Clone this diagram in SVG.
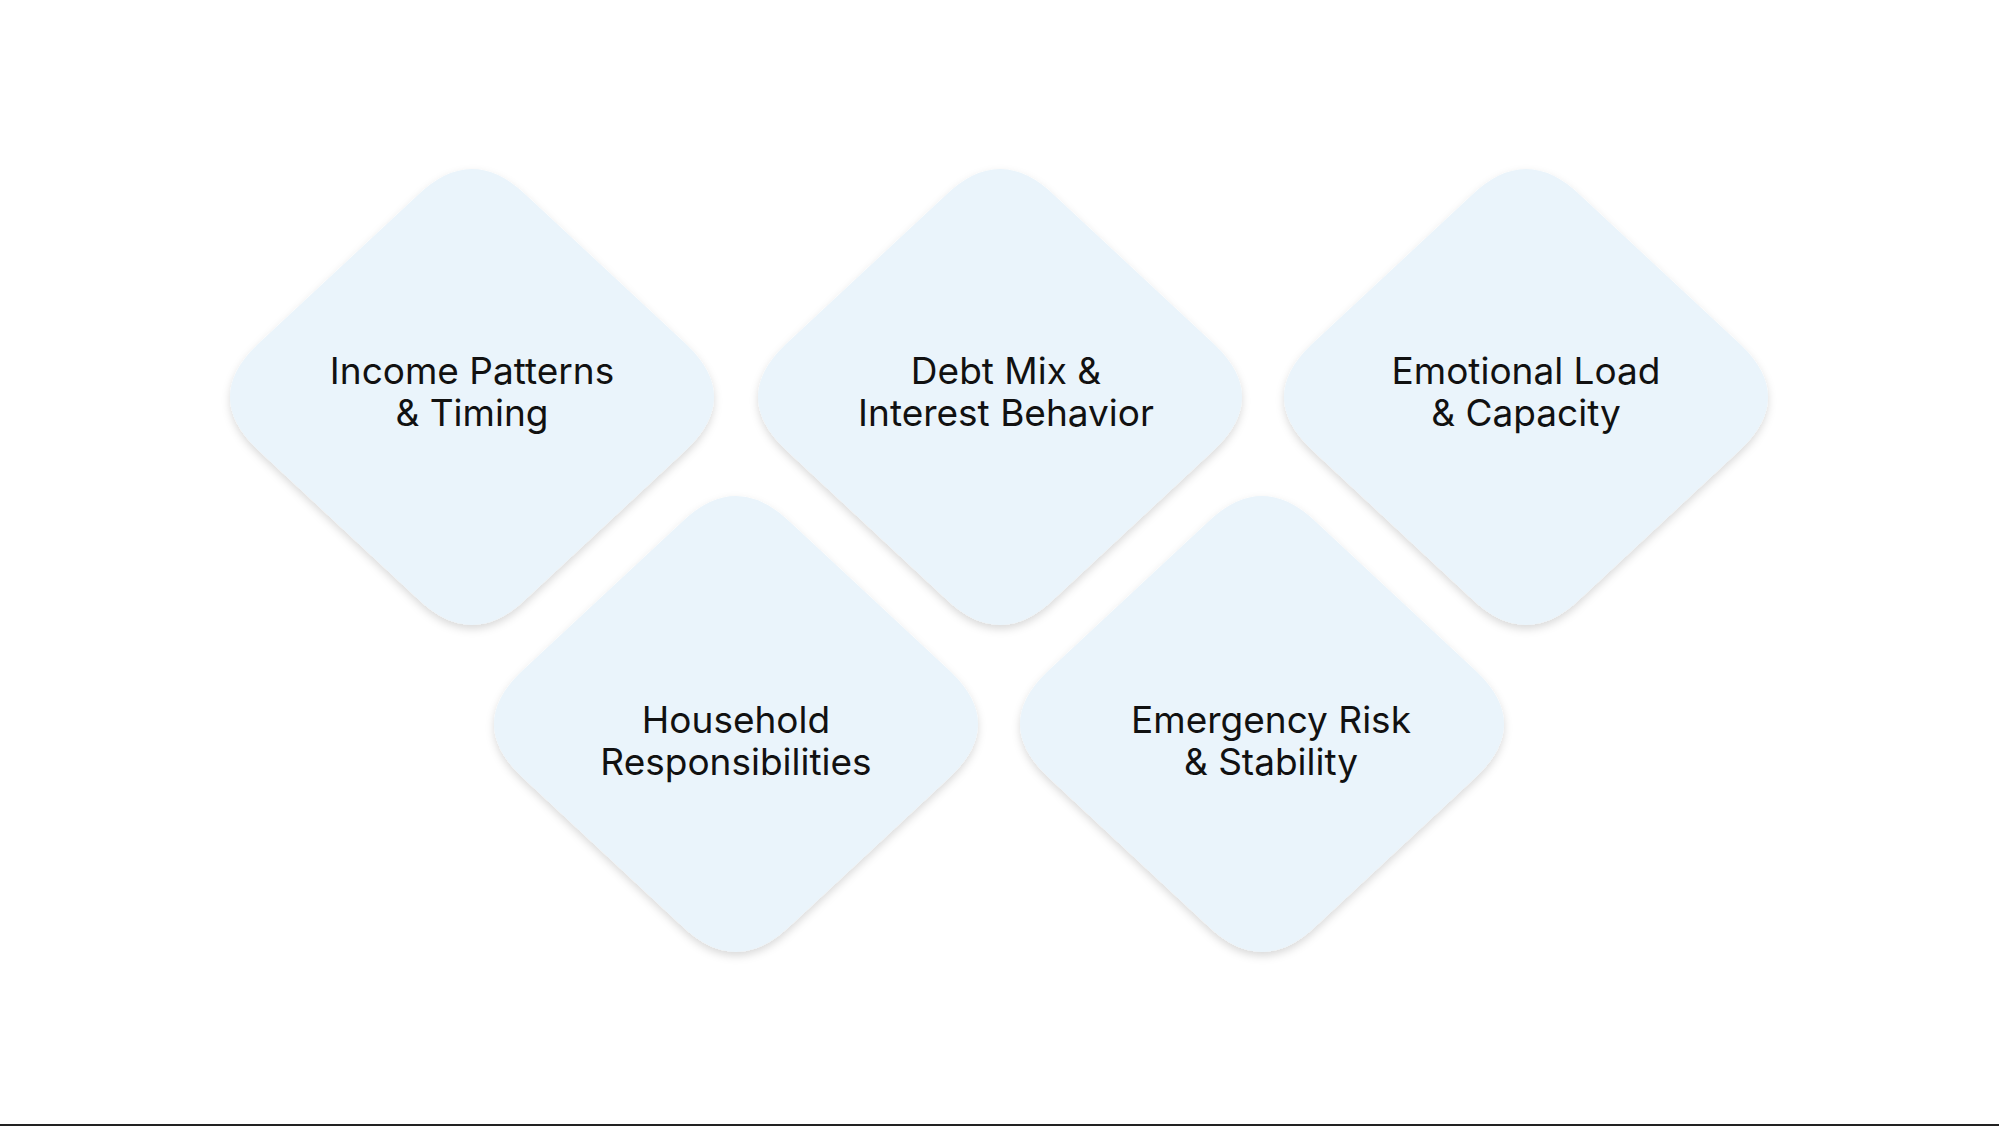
<svg xmlns="http://www.w3.org/2000/svg" width="1999" height="1126" viewBox="0 0 1999 1126">
<style>
.d{fill:#EAF4FB}
.t{font-family:Inter,"Noto Sans",sans-serif;font-size:37px;fill:#111;text-anchor:middle}
</style>
<defs>
<filter id="sh" x="-20%" y="-20%" width="140%" height="140%"><feDropShadow dx="0" dy="4" stdDeviation="4" flood-color="#000" flood-opacity="0.15"/></filter>
<path id="dm" d="M -54,-202 Q 0,-254 54,-202 L 215,-52 Q 269,0 215,52 L 54,202 Q 0,254 -54,202 L -215,52 Q -269,0 -215,-52 Z"/>
</defs>
<rect width="1999" height="1126" fill="#fff"/>
<g id="n1"><use href="#dm" class="d" filter="url(#sh)" transform="translate(472,397)"/><text class="t" x="472" y="384">Income Patterns</text><text class="t" x="472" y="426">&amp; Timing</text></g>
<g id="n2"><use href="#dm" class="d" filter="url(#sh)" transform="translate(1000,397)"/><text class="t" x="1006" y="384">Debt Mix &amp;</text><text class="t" x="1006" y="426">Interest Behavior</text></g>
<g id="n3"><use href="#dm" class="d" filter="url(#sh)" transform="translate(1526,397)"/><text class="t" x="1526" y="384">Emotional Load</text><text class="t" x="1526" y="426">&amp; Capacity</text></g>
<g id="n4"><use href="#dm" class="d" filter="url(#sh)" transform="translate(736,724)"/><text class="t" x="736" y="733">Household</text><text class="t" x="736" y="775">Responsibilities</text></g>
<g id="n5"><use href="#dm" class="d" filter="url(#sh)" transform="translate(1262,724)"/><text class="t" x="1271" y="733">Emergency Risk</text><text class="t" x="1271" y="775">&amp; Stability</text></g>
<g id="connectors"></g>
<rect x="0" y="1124" width="1999" height="2" fill="#222"/>
</svg>
